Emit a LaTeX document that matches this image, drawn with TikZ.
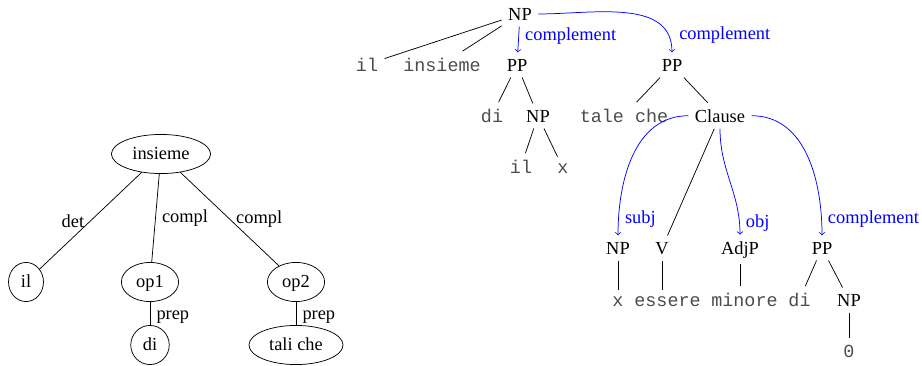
\documentclass[tikz,border=0pt]{standalone}
\usepackage{fontspec}
\setmainfont{Liberation Serif}
\setmonofont{Liberation Mono}
\usetikzlibrary{shapes.geometric, arrows, positioning}

\begin{document}
\begin{tikzpicture}[
    x=0.5435pt, y=-0.5435pt,
    sem/.style={ellipse, draw, inner sep=3.5pt, minimum height=19.5pt, minimum width=19pt, text height=1.5ex, text depth=0.25ex},
    cat/.style={anchor=base},
    word/.style={anchor=base, font=\ttfamily, text=black!70},
    dep/.style={->, blue},
    rel/.style={text=blue}
]
\useasboundingbox (0,0) rectangle (922,365);

% Semantic graph
\node[sem] (ins) at (161,154) {insieme};
\node[sem] (il) at (26,282) {il};
\node[sem] (op1) at (150,282) {op1};
\node[sem] (op2) at (296,282) {op2};
\node[sem] (di) at (150,345) {di};
\node[sem] (tc) at (296,345) {tali che};

\draw (ins) -- node[left] {det} (il);
\draw (ins) -- node[right] {compl} (op1);
\draw (ins) -- node[right] {compl} (op2);
\draw (op1) -- node[right, pos=0.65] {prep} (di);
\draw (op2) -- node[right, pos=0.65] {prep} (tc);

% Phrase structure tree
\node[cat] (np1) at (520,20) {NP};
\node[word] (il1) at (367,71) {il};
\node[word] (ins1) at (442,71) {insieme};
\node[cat] (pp1) at (517,71) {PP};
\node[cat] (pp2) at (672,71) {PP};
\node[word] (di1) at (492,122) {di};
\node[cat] (np2) at (538,122) {NP};
\node[word] (tale) at (624,122) {tale che};
\node[cat] (cl) at (720,122) {Clause};
\node[word] (il2) at (521,173) {il};
\node[word] (x1) at (563,173) {x};
\node[cat] (np3) at (618,254) {NP};
\node[cat] (v) at (662,254) {V};
\node[cat] (adjp) at (740,254) {AdjP};
\node[cat] (pp3) at (822,254) {PP};
\node[word] (x2) at (618,306) {x};
\node[word] (ess) at (667.5,306) {essere};
\node[word] (min) at (744.5,306) {minore};
\node[word] (di3) at (799.5,306) {di};
\node[cat] (np4) at (849,306) {NP};
\node[word] (zero) at (849,357) {0};

\draw (np1) -- (il1);
\draw (np1) -- (ins1);
\draw (pp1) -- (di1);
\draw (pp1) -- (np2);
\draw (np2) -- (il2);
\draw (np2) -- (x1);
\draw (pp2) -- (tale);
\draw (pp2) -- (cl);
\draw (cl) -- (v);
\draw (np3) -- (x2);
\draw (v.south) -- (v.south |- ess.north);
\draw (adjp.south) -- (adjp.south |- min.north);
\draw (pp3) -- (di3);
\draw (pp3) -- (np4);
\draw (np4) -- (zero);

% Dependencies
\draw[dep] (np1) -- node[rel, right, pos=0.35] {complement} (pp1);
\draw[dep] (np1.east) to[out=0, in=90] node[rel, right, pos=0.87, xshift=2.5pt] {complement} (pp2.north);
\draw[dep] (cl.west) to[out=180, in=90] node[rel, right, pos=0.9] {subj} (np3.north);
\draw[dep] (cl.south) to[out=-90, in=90] node[rel, right, pos=0.9] {obj} (adjp.north);
\draw[dep] (cl.east) to[out=0, in=90] node[rel, right, pos=0.9] {complement} (pp3.north);

\end{tikzpicture}
\end{document}
